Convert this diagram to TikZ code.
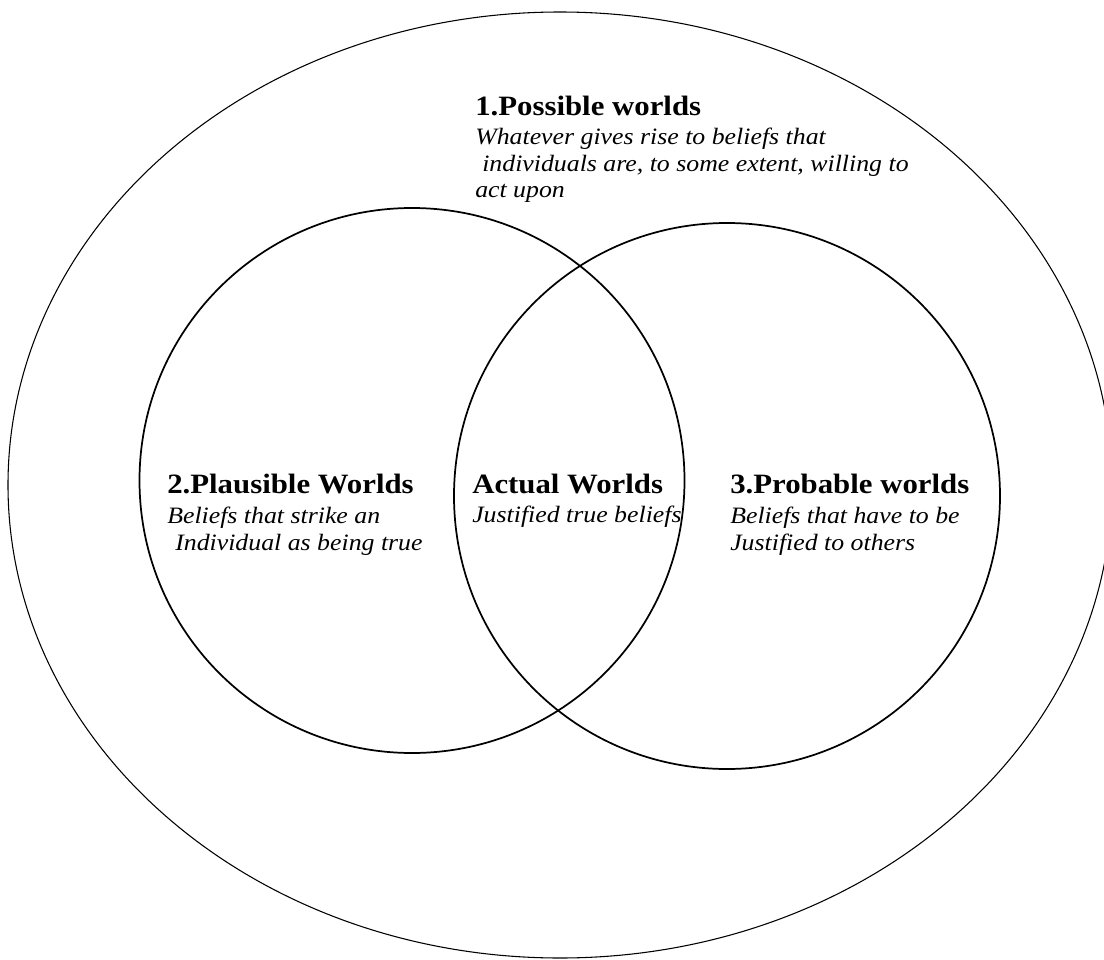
\documentclass[tikz,border=0pt]{standalone}
\usepackage{fontspec}
\setmainfont{Liberation Serif}[FakeStretch=1.1]
\begin{document}
\begin{tikzpicture}[x=0.75pt,y=-0.75pt,
  outer/.style={draw=black,line width=0.8pt},
  ring/.style={draw=black,line width=1.3pt},
  head/.style={anchor=base west,inner sep=0pt,font=\bfseries\fontsize{21}{25}\selectfont},
  body/.style={anchor=base west,inner sep=0pt,font=\itshape\fontsize{17.6}{21}\selectfont}]
\clip (0,0) rectangle (1104,960);
\fill[white] (0,0) rectangle (1104,960);
% shapes
\draw[outer] (560,485) ellipse [x radius=552, y radius=473];
\draw[ring] (412,480.5) circle [radius=272.5];
\draw[ring] (727,496) circle [radius=273];
% 1. Possible worlds
\node[head] (pw) at (475,115) {1.Possible worlds};
\node[body] (pw1) at (475,144) {Whatever gives rise to beliefs that};
\node[body] (pw2) at (482,171) {individuals are, to some extent, willing to};
\node[body] (pw3) at (475,197.5) {act upon};
% 2. Plausible Worlds
\node[head] (pl) at (167,493) {2.Plausible Worlds};
\node[body] (pl1) at (167,523) {Beliefs that strike an};
\node[body] (pl2) at (175,550) {Individual as being true};
% Actual Worlds
\node[head] (ac) at (472,493) {Actual Worlds};
\node[body] (ac1) at (472,522) {Justified true beliefs};
% 3. Probable worlds
\node[head] (pr) at (730,493) {3.Probable worlds};
\node[body] (pr1) at (730,523) {Beliefs that have to be};
\node[body] (pr2) at (730,550) {Justified to others};
\end{tikzpicture}
\end{document}
